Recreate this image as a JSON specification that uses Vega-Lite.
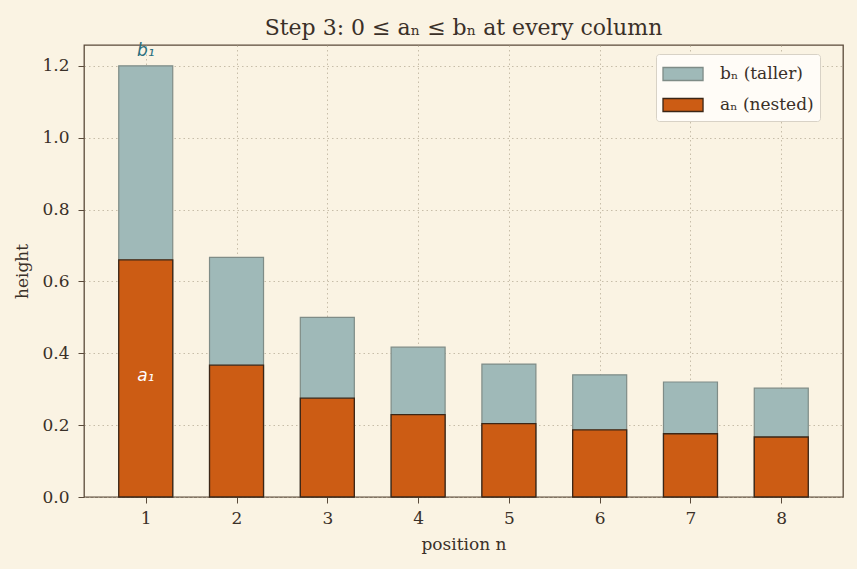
{
  "$schema": "https://vega.github.io/schema/vega-lite/v6.json",
  "width": 759,
  "height": 452,
  "autosize": {"type": "none"},
  "padding": {"left": 84, "top": 45, "right": 14, "bottom": 72},
  "background": "#faf3e3",
  "title": {
    "text": "Step 3: 0 ≤ aₙ ≤ bₙ at every column",
    "font": "DejaVu Serif",
    "fontSize": 22,
    "fontWeight": "normal",
    "color": "#3a3028",
    "offset": 2
  },
  "data": {
    "values": [
      {"n": 1, "series": "bₙ (taller)", "value": 1.2},
      {"n": 2, "series": "bₙ (taller)", "value": 0.667},
      {"n": 3, "series": "bₙ (taller)", "value": 0.5},
      {"n": 4, "series": "bₙ (taller)", "value": 0.417},
      {"n": 5, "series": "bₙ (taller)", "value": 0.37},
      {"n": 6, "series": "bₙ (taller)", "value": 0.34},
      {"n": 7, "series": "bₙ (taller)", "value": 0.32},
      {"n": 8, "series": "bₙ (taller)", "value": 0.303},
      {"n": 1, "series": "aₙ (nested)", "value": 0.66},
      {"n": 2, "series": "aₙ (nested)", "value": 0.367},
      {"n": 3, "series": "aₙ (nested)", "value": 0.275},
      {"n": 4, "series": "aₙ (nested)", "value": 0.229},
      {"n": 5, "series": "aₙ (nested)", "value": 0.204},
      {"n": 6, "series": "aₙ (nested)", "value": 0.187},
      {"n": 7, "series": "aₙ (nested)", "value": 0.176},
      {"n": 8, "series": "aₙ (nested)", "value": 0.167}
    ]
  },
  "encoding": {
    "x": {
      "field": "n", "type": "quantitative",
      "scale": {"domain": [0.32, 8.68], "nice": false, "zero": false, "padding": 0},
      "axis": {"values": [1,2,3,4,5,6,7,8], "title": "position n", "format": "d"}
    },
    "y": {
      "field": "value", "type": "quantitative",
      "scale": {"domain": [0, 1.258], "nice": false, "padding": 0},
      "axis": {"values": [0,0.2,0.4,0.6,0.8,1.0,1.2], "format": ".1f", "title": "height"}
    }
  },
  "layer": [
    {
      "transform": [{"filter": "datum.series == 'bₙ (taller)'"}],
      "mark": {"type": "bar", "size": 54, "strokeWidth": 1.2},
      "encoding": {
        "fill": {
          "field": "series", "type": "nominal",
          "scale": {"domain": ["bₙ (taller)", "aₙ (nested)"], "range": ["#9fb9b8", "#cc5c14"]},
          "legend": {
            "title": null,
            "orient": "none",
            "legendX": 572,
            "legendY": 9,
            "symbolType": "M-1,-0.5L2.08,-0.5L2.08,0.5L-1,0.5Z",
            "symbolSize": 676,
            "symbolStrokeWidth": 1.3,
            "labelFont": "DejaVu Serif",
            "labelFontSize": 17,
            "labelColor": "#3a3028",
            "labelOffset": 30,
            "rowPadding": 7,
            "padding": 6,
            "fillColor": "#fffcf7",
            "strokeColor": "#d8d2c6",
            "cornerRadius": 3
          }
        },
        "stroke": {
          "field": "series", "type": "nominal",
          "scale": {"domain": ["bₙ (taller)", "aₙ (nested)"], "range": ["#7f8c87", "#3b2616"]},
          "legend": {
            "title": null,
            "orient": "none",
            "legendX": 572,
            "legendY": 9,
            "symbolType": "M-1,-0.5L2.08,-0.5L2.08,0.5L-1,0.5Z",
            "symbolSize": 676,
            "symbolStrokeWidth": 1.3,
            "labelFont": "DejaVu Serif",
            "labelFontSize": 17,
            "labelColor": "#3a3028",
            "labelOffset": 30,
            "rowPadding": 7,
            "padding": 6,
            "fillColor": "#fffcf7",
            "strokeColor": "#d8d2c6",
            "cornerRadius": 3
          }
        }
      }
    },
    {
      "transform": [{"filter": "datum.series == 'aₙ (nested)'"}],
      "mark": {"type": "bar", "size": 54, "strokeWidth": 1.3},
      "encoding": {
        "fill": {"field": "series", "type": "nominal"},
        "stroke": {"field": "series", "type": "nominal"}
      }
    },
    {
      "transform": [{"filter": "datum.series == 'bₙ (taller)' && datum.n == 1"}],
      "mark": {"type": "text", "text": "b₁", "font": "DejaVu Sans", "fontStyle": "italic", "fontSize": 17, "color": "#2a6f80", "dy": -15},
      "encoding": {}
    },
    {
      "transform": [
        {"filter": "datum.series == 'aₙ (nested)' && datum.n == 1"},
        {"calculate": "datum.value / 2", "as": "mid"}
      ],
      "mark": {"type": "text", "text": "a₁", "font": "DejaVu Sans", "fontStyle": "italic", "fontSize": 17, "color": "#ffffff", "dy": -2},
      "encoding": {"y": {"field": "mid", "type": "quantitative"}}
    }
  ],
  "config": {
    "view": {"stroke": "#5a4a3a", "strokeWidth": 1.3},
    "axis": {
      "zindex": 1,
      "labelFont": "DejaVu Serif",
      "labelFontSize": 17,
      "labelColor": "#3a3028",
      "titleFont": "DejaVu Serif",
      "titleFontSize": 17,
      "titleFontWeight": "normal",
      "titleColor": "#3a3028",
      "domain": false,
      "tickColor": "#5a4a3a",
      "tickSize": 6,
      "tickWidth": 1,
      "grid": true,
      "gridColor": "#b0a690",
      "gridOpacity": 0.7,
      "gridDash": [1.5, 3],
      "gridWidth": 1
    },
    "axisX": {"labelPadding": 7, "titlePadding": 10},
    "axisY": {"labelPadding": 9, "titlePadding": 10}
  }
}
